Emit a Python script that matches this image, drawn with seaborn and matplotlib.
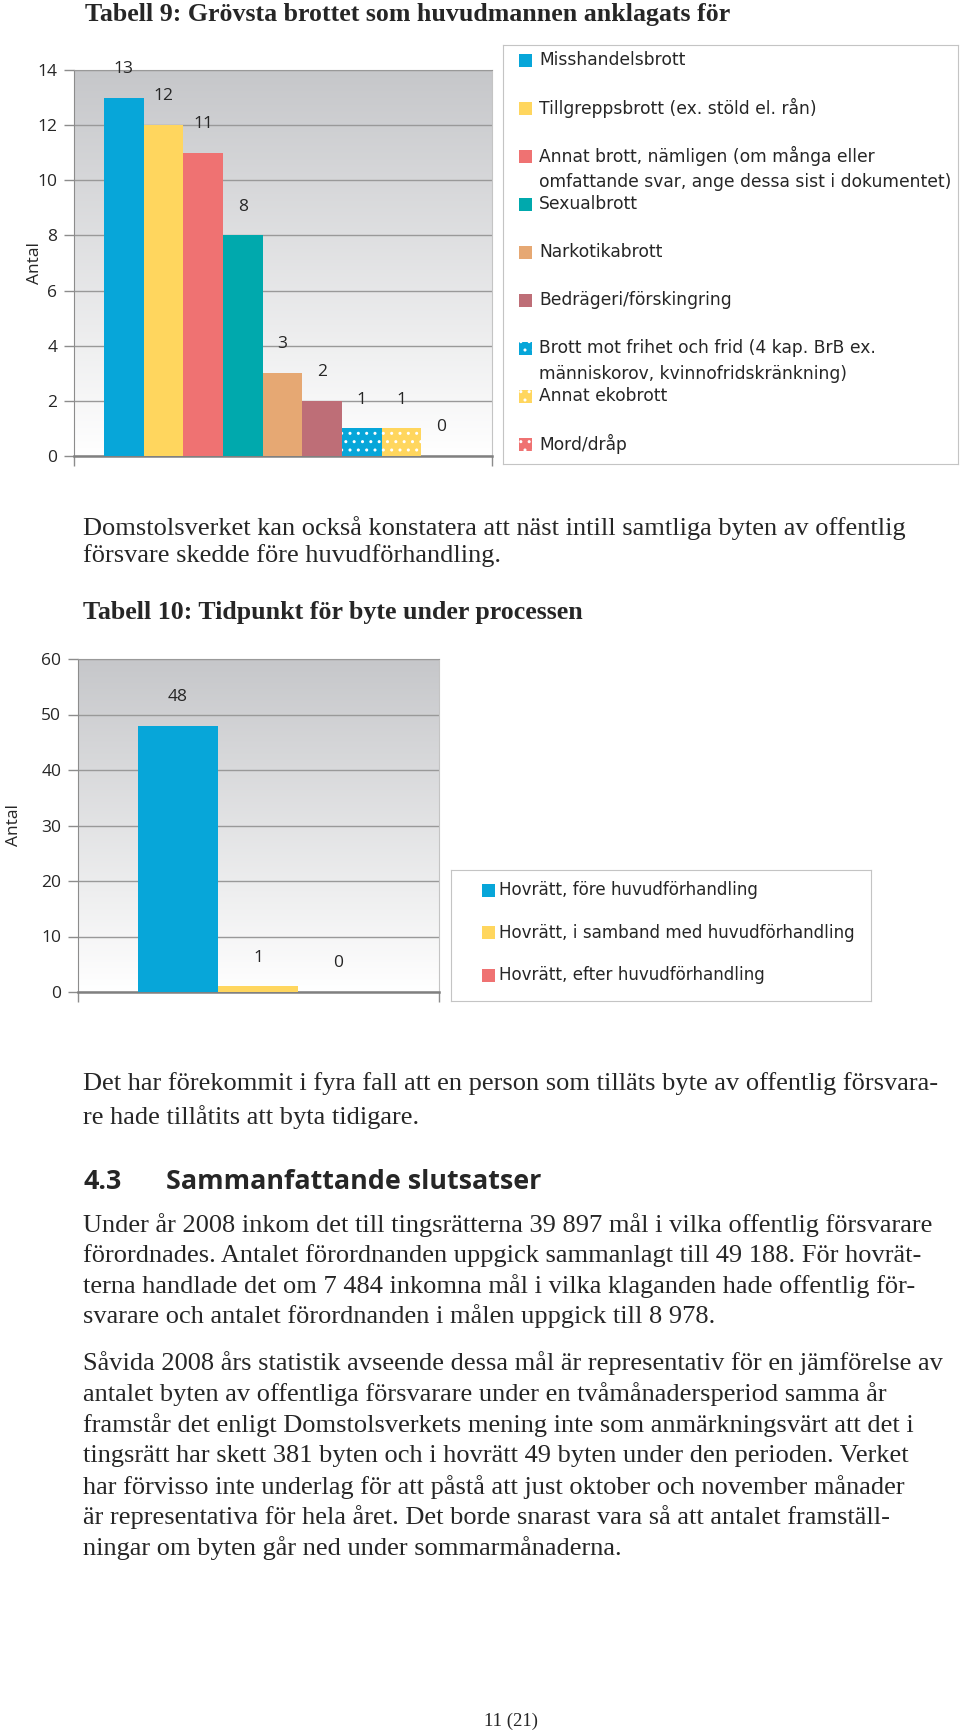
import numpy as np
import matplotlib.pyplot as plt
import pandas as pd
import seaborn as sns
from matplotlib.colors import LinearSegmentedColormap
from matplotlib.patches import Rectangle

sns.set_style('white')
plt.rcParams['font.family'] = ['DejaVu Sans']

# --- data ---
crimes = ['Misshandelsbrott',
          'Tillgreppsbrott (ex. stöld el. rån)',
          'Annat brott, nämligen (om många eller\nomfattande svar, ange dessa sist i dokumentet)',
          'Sexualbrott',
          'Narkotikabrott',
          'Bedrägeri/förskingring',
          'Brott mot frihet och frid (4 kap. BrB ex.\nmänniskorov, kvinnofridskränkning)',
          'Annat ekobrott',
          'Mord/dråp']
crime_counts = [13, 12, 11, 8, 3, 2, 1, 1, 0]
crime_colors = ['#07A6D9', '#FFD65E', '#EF7272', '#00A9AD',
                '#E6A873', '#BE6E77', '#07A6D9', '#FFD65E', '#EF7272']
crime_dotted = [False, False, False, False, False, False, True, True, True]

stages = ['Hovrätt, före huvudförhandling',
          'Hovrätt, i samband med huvudförhandling',
          'Hovrätt, efter huvudförhandling']
stage_counts = [48, 1, 0]
stage_colors = ['#07A6D9', '#FFD65E', '#EF7272']

p1 = ['Domstolsverket kan också konstatera att näst intill samtliga byten av offentlig',
      'försvare skedde före huvudförhandling.']
p3 = ['Det har förekommit i fyra fall att en person som tilläts byte av offentlig försvara-',
      're hade tillåtits att byta tidigare.']
p4 = ['Under år 2008 inkom det till tingsrätterna 39 897 mål i vilka offentlig försvarare',
      'förordnades. Antalet förordnanden uppgick sammanlagt till 49 188. För hovrät-',
      'terna handlade det om 7 484 inkomna mål i vilka klaganden hade offentlig för-',
      'svarare och antalet förordnanden i målen uppgick till 8 978.']
p5 = ['Såvida 2008 års statistik avseende dessa mål är representativ för en jämförelse av',
      'antalet byten av offentliga försvarare under en tvåmånadersperiod samma år',
      'framstår det enligt Domstolsverkets mening inte som anmärkningsvärt att det i',
      'tingsrätt har skett 381 byten och i hovrätt 49 byten under den perioden. Verket',
      'har förvisso inte underlag för att påstå att just oktober och november månader',
      'är representativa för hela året. Det borde snarast vara så att antalet framställ-',
      'ningar om byten går ned under sommarmånaderna.']

W, H = 960, 1732
fig = plt.figure(figsize=(W / 100, H / 100), dpi=100)


def box(l, t, r, b):
    return [l / W, 1 - b / H, (r - l) / W, (b - t) / H]


def txt(x, y, s, **kw):
    fig.text(x / W, 1 - y / H, s, va='center', **kw)


bg = LinearSegmentedColormap.from_list('bg', ['#ffffff', '#c6c7ca'])


def bar_chart(rect, cats, vals, colors, ymax, step, xlim, tick_size, lab_x):
    ax = fig.add_axes(rect)
    df = pd.DataFrame({'grp': [''] * len(cats), 'kat': cats, 'antal': vals})
    sns.barplot(data=df, x='grp', y='antal', hue='kat', hue_order=cats,
                palette=colors, width=0.8, saturation=1, errorbar=None,
                legend=False, ax=ax, zorder=3, linewidth=0)
    ax.imshow(np.linspace(0, 1, 256)[:, None], cmap=bg, aspect='auto',
              extent=[xlim[0], xlim[1], 0, ymax], origin='lower', zorder=0)
    ax.set_xlim(*xlim)
    ax.set_ylim(0, ymax)
    ax.set_yticks(np.arange(0, ymax + 1, step))
    ax.set_axisbelow(True)
    ax.yaxis.grid(True, color='#999999', lw=1)
    ax.set_xticks(list(xlim))
    ax.set_xticklabels(['', ''])
    ax.set_xlabel('')
    ax.set_ylabel('Antal', fontsize=12.5, family='Open Sans')
    ax.yaxis.set_label_coords(lab_x, 0.5)
    ax.tick_params(axis='y', left=True, direction='out', length=7, width=1,
                   color='#8c8c8c', pad=5, labelsize=tick_size)
    ax.tick_params(axis='x', bottom=True, direction='out', length=7, width=1,
                   color='#8c8c8c')
    for lab in ax.get_yticklabels():
        lab.set_family('Open Sans')
    ax.spines['left'].set_color('#8c8c8c')
    ax.spines['bottom'].set_color('#808080')
    ax.spines['bottom'].set_linewidth(1.8)
    ax.spines['top'].set_color('#999999')
    ax.spines['right'].set_color('#c4c4c4')
    for c in ax.containers:
        ax.bar_label(c, fmt='%d', padding=15, fontsize=12.5, family='Open Sans')
    return ax


# --- chart 1 ---
ax1 = bar_chart(box(74, 70, 492, 456), crimes, crime_counts, crime_colors,
                14, 2, (-0.4672, 0.4695), 12.5, -0.074)
for i, c in enumerate(ax1.containers):
    if crime_dotted[i]:
        for bar in c:
            bar.set_hatch('..')
            bar.set_edgecolor('white')
            bar.set_linewidth(0)

lax = fig.add_axes(box(503, 45, 958, 464))
lax.set_xlim(0, 455)
lax.set_ylim(419, 0)
lax.set_xticks([])
lax.set_yticks([])
for sp in lax.spines.values():
    sp.set_color('#c4c4c4')
for i, (name, col) in enumerate(zip(crimes, crime_colors)):
    y = 15 + i * 48
    lax.add_patch(Rectangle((16, y - 6.5), 13, 13, facecolor=col,
                            hatch='..' if crime_dotted[i] else None,
                            edgecolor='white' if crime_dotted[i] else col, lw=0))
    for j, line in enumerate(name.split('\n')):
        lax.text(36, y + j * 26, line, va='center', fontsize=12.3)

# --- chart 2 ---
ax2 = bar_chart(box(78, 659, 439, 992), stages, stage_counts, stage_colors,
                60, 10, (-0.6, 0.603), 12.5, -0.155)

lax2 = fig.add_axes(box(451, 870, 871, 1001))
lax2.set_xlim(0, 420)
lax2.set_ylim(131, 0)
lax2.set_xticks([])
lax2.set_yticks([])
for sp in lax2.spines.values():
    sp.set_color('#c4c4c4')
for i, (name, col) in enumerate(zip(stages, stage_colors)):
    y = 20 + i * 42.5
    lax2.add_patch(Rectangle((31, y - 6.5), 13, 13, facecolor=col, lw=0))
    lax2.text(48, y, name, va='center', fontsize=12.1)

# --- page text ---
serif = 'Liberation Serif'
txt(85, 15, 'Tabell 9: Grövsta brottet som huvudmannen anklagats för',
    family=serif, fontsize=18.6, weight='bold')
for k, line in enumerate(p1):
    txt(83, 528 + k * 28, line, family=serif, fontsize=19)
txt(83, 613, 'Tabell 10: Tidpunkt för byte under processen',
    family=serif, fontsize=18.6, weight='bold')
for k, line in enumerate(p3):
    txt(83, 1084 + k * 33, line, family=serif, fontsize=19)
txt(83, 1182, '4.3', family='Open Sans', fontsize=19.4, weight='bold')
txt(166, 1182, 'Sammanfattande slutsatser', family='Open Sans', fontsize=19.4,
    weight='bold')
for k, line in enumerate(p4):
    txt(83, 1225 + k * 30.3, line, family=serif, fontsize=19)
for k, line in enumerate(p5):
    txt(83, 1363 + k * 30.9, line, family=serif, fontsize=19)
txt(511, 1721, '11 (21)', family=serif, fontsize=13.5, ha='center')

fig.savefig('out.png', dpi=100)
